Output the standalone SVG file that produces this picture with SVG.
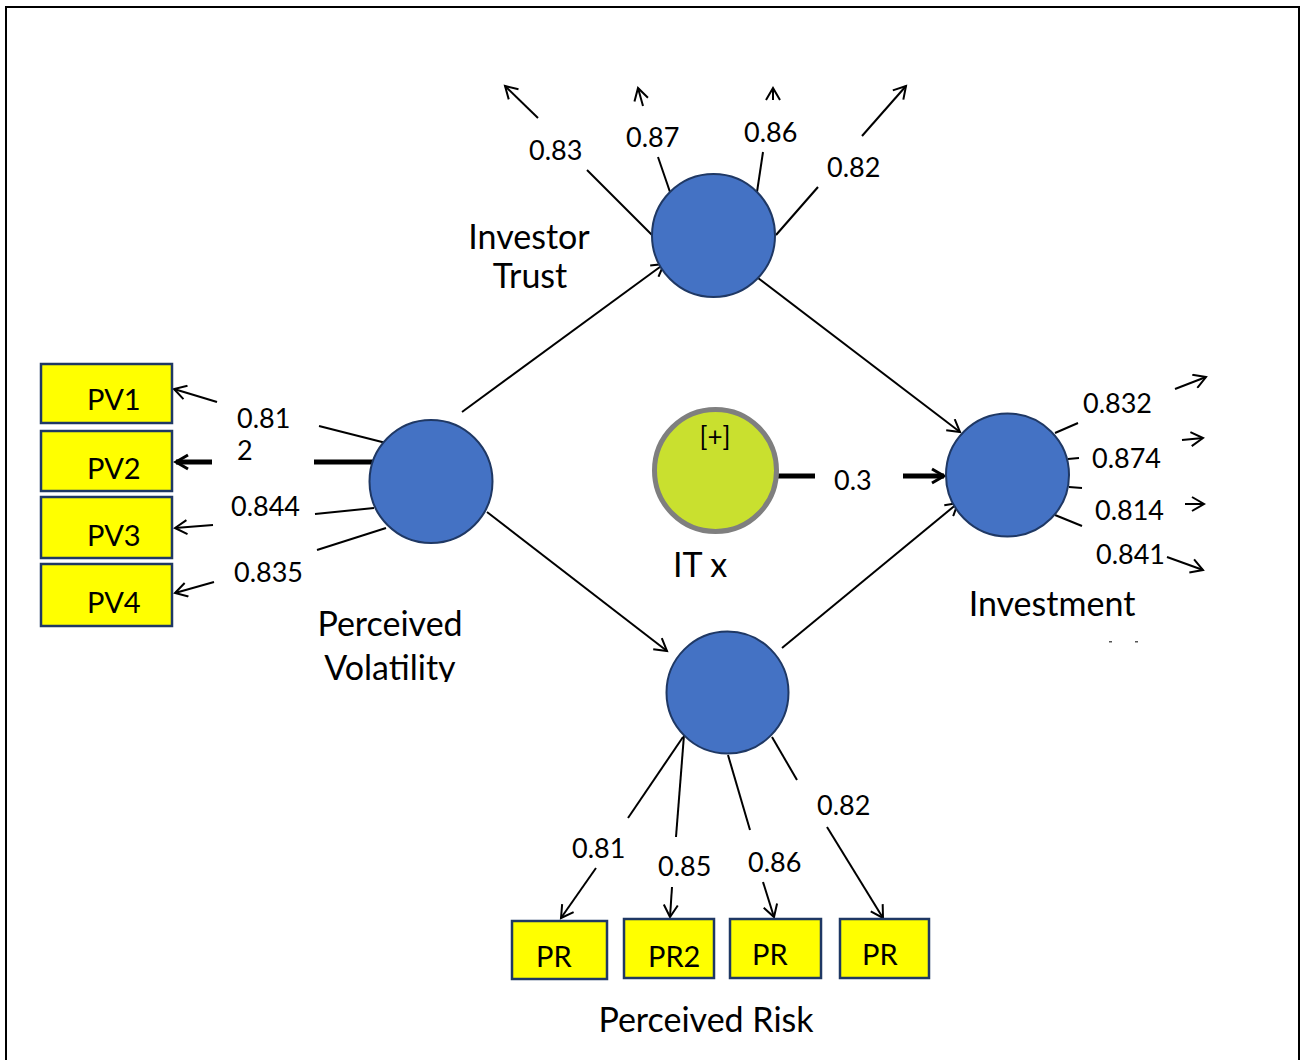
<svg xmlns="http://www.w3.org/2000/svg" width="1301" height="1060" viewBox="0 0 1301 1060">
<defs>
<style>
.t{font-family:Lato,"Open Sans","Liberation Sans",sans-serif;fill:#000}
.num{font-size:27px}
.lbl{font-size:34px}
.box{font-size:29px}
.ln{stroke:#000;stroke-width:2;fill:none}
.ar{stroke:#000;stroke-width:2;fill:none;marker-end:url(#ah)}
.thick{stroke:#000;stroke-width:5;fill:none}
.lv{fill:#4472C4;stroke:#1F3864;stroke-width:2}
.ind{fill:#FFFF00;stroke:#1F3864;stroke-width:2.5}
</style>
<marker id="ah" markerWidth="16" markerHeight="16" refX="13" refY="8" orient="auto" markerUnits="userSpaceOnUse">
<path d="M1,1 L13,8 L1,15" fill="none" stroke="#000" stroke-width="2"/>
</marker>
<marker id="ahT" markerWidth="18" markerHeight="18" refX="14" refY="9" orient="auto" markerUnits="userSpaceOnUse">
<path d="M2,2 L14,9 L2,16" fill="none" stroke="#000" stroke-width="3"/>
</marker>
<clipPath id="cv"><rect x="300" y="640" width="200" height="42"/></clipPath>
</defs>
<rect width="1301" height="1060" fill="#fff"/>
<rect x="6" y="7" width="1293" height="1070" fill="none" stroke="#000" stroke-width="2"/>

<g id="connectors">
<line class="ar" x1="462" y1="412" x2="664" y2="264"/>
<line class="ar" x1="487" y1="512" x2="667" y2="651"/>
<line class="ar" x1="758" y1="278" x2="960" y2="432"/>
<line class="ar" x1="782" y1="648" x2="958" y2="503"/>
<line class="thick" x1="778" y1="476" x2="815" y2="476"/>
<line class="thick" x1="903" y1="476" x2="944" y2="476" marker-end="url(#ahT)"/>
<line class="ln" x1="386" y1="443" x2="319" y2="426"/>
<line class="ar" x1="217" y1="402" x2="174" y2="389"/>
<line class="thick" x1="375" y1="462" x2="314" y2="462"/>
<line class="thick" x1="212" y1="462" x2="176" y2="462" marker-end="url(#ahT)"/>
<line class="ln" x1="374" y1="508" x2="315" y2="514"/>
<line class="ar" x1="213" y1="525" x2="175" y2="528"/>
<line class="ln" x1="386" y1="528" x2="317" y2="550"/>
<line class="ar" x1="214" y1="582" x2="175" y2="593"/>
<line class="ln" x1="652" y1="235" x2="587" y2="170"/>
<line class="ar" x1="538" y1="118" x2="505" y2="86"/>
<line class="ln" x1="670" y1="192" x2="658" y2="157"/>
<line class="ar" x1="643" y1="106" x2="638" y2="88"/>
<line class="ln" x1="757" y1="192" x2="763" y2="152"/>
<line class="ar" x1="773" y1="100" x2="773" y2="88"/>
<line class="ln" x1="776" y1="235" x2="818" y2="187"/>
<line class="ar" x1="862" y1="136" x2="906" y2="86"/>
<line class="ln" x1="1055" y1="433" x2="1078" y2="423"/>
<line class="ar" x1="1175" y1="389" x2="1206" y2="377"/>
<line class="ln" x1="1068" y1="459" x2="1079" y2="458"/>
<line class="ar" x1="1182" y1="440" x2="1203" y2="438"/>
<line class="ln" x1="1069" y1="487" x2="1082" y2="488"/>
<line class="ar" x1="1185" y1="504" x2="1204" y2="504"/>
<line class="ln" x1="1055" y1="515" x2="1082" y2="526"/>
<line class="ar" x1="1167" y1="557" x2="1203" y2="570"/>
<line class="ln" x1="683" y1="737" x2="628" y2="818"/>
<line class="ar" x1="596" y1="868" x2="561" y2="918"/>
<line class="ln" x1="684" y1="735" x2="676" y2="837"/>
<line class="ar" x1="672" y1="887" x2="670" y2="917"/>
<line class="ln" x1="728" y1="755" x2="750" y2="830"/>
<line class="ar" x1="763" y1="882" x2="774" y2="917"/>
<line class="ln" x1="772" y1="737" x2="797" y2="780"/>
<line class="ar" x1="827" y1="827" x2="883" y2="918"/>
</g>

<g id="loadings" class="t num">
<text x="237" y="428">0.81</text>
<text x="237" y="460">2</text>
<text x="231" y="516">0.844</text>
<text x="234" y="582">0.835</text>
<text x="529" y="160">0.83</text>
<text x="626" y="147">0.87</text>
<text x="744" y="142">0.86</text>
<text x="827" y="177">0.82</text>
<text x="1083" y="413">0.832</text>
<text x="1092" y="468">0.874</text>
<text x="1095" y="520">0.814</text>
<text x="1096" y="564">0.841</text>
<text x="572" y="858">0.81</text>
<text x="658" y="876">0.85</text>
<text x="748" y="872">0.86</text>
<text x="817" y="815">0.82</text>
<text x="834" y="490">0.3</text>
</g>

<g id="investor-trust">
<circle class="lv" cx="713.5" cy="235.5" r="61.5"/>
<text class="t lbl" x="529" y="249" text-anchor="middle" font-size="33">Investor</text>
<text class="t lbl" x="530" y="288" text-anchor="middle" font-size="33">Trust</text>
</g>

<g id="perceived-volatility">
<circle class="lv" cx="431" cy="481.5" r="61.5"/>
<text class="t lbl" x="390" y="636" text-anchor="middle">Perceived</text>
<text class="t lbl" x="390" y="680" text-anchor="middle" clip-path="url(#cv)">Volatility</text>
</g>

<g id="investment">
<circle class="lv" cx="1007.5" cy="475" r="61.5"/>
<text class="t lbl" x="1052" y="616" text-anchor="middle">Investment</text>
<rect x="1109" y="641" width="3" height="1.5" fill="#555"/>
<rect x="1135" y="641" width="3" height="1.5" fill="#555"/>
</g>

<g id="perceived-risk">
<circle class="lv" cx="727.5" cy="692.5" r="61"/>
<text class="t lbl" x="706" y="1032" text-anchor="middle">Perceived Risk</text>
</g>

<g id="it-x">
<circle cx="715.5" cy="470.5" r="61" fill="#C9E02F" stroke="#7F7F7F" stroke-width="5"/>
<text class="t" x="715" y="446" font-size="26" text-anchor="middle">[+]</text>
<text class="t lbl" x="700" y="577" text-anchor="middle">IT x</text>
</g>

<g id="pv1"><rect class="ind" x="41" y="364" width="131" height="59"/><text class="t box" x="87" y="410">PV1</text></g>
<g id="pv2"><rect class="ind" x="41" y="431" width="131" height="60" stroke-width="1"/><text class="t box" x="87" y="479">PV2</text></g>
<g id="pv3"><rect class="ind" x="41" y="497" width="131" height="61"/><text class="t box" x="87" y="546">PV3</text></g>
<g id="pv4"><rect class="ind" x="41" y="564" width="131" height="62"/><text class="t box" x="87" y="613">PV4</text></g>

<g id="pr1"><rect class="ind" x="512" y="921" width="95" height="58"/><text class="t box" x="536" y="967">PR</text></g>
<g id="pr2"><rect class="ind" x="624" y="919" width="90" height="59"/><text class="t box" x="648" y="967">PR2</text></g>
<g id="pr3"><rect class="ind" x="730" y="919" width="91" height="59"/><text class="t box" x="752" y="965">PR</text></g>
<g id="pr4"><rect class="ind" x="840" y="919" width="89" height="59"/><text class="t box" x="862" y="965">PR</text></g>
</svg>
